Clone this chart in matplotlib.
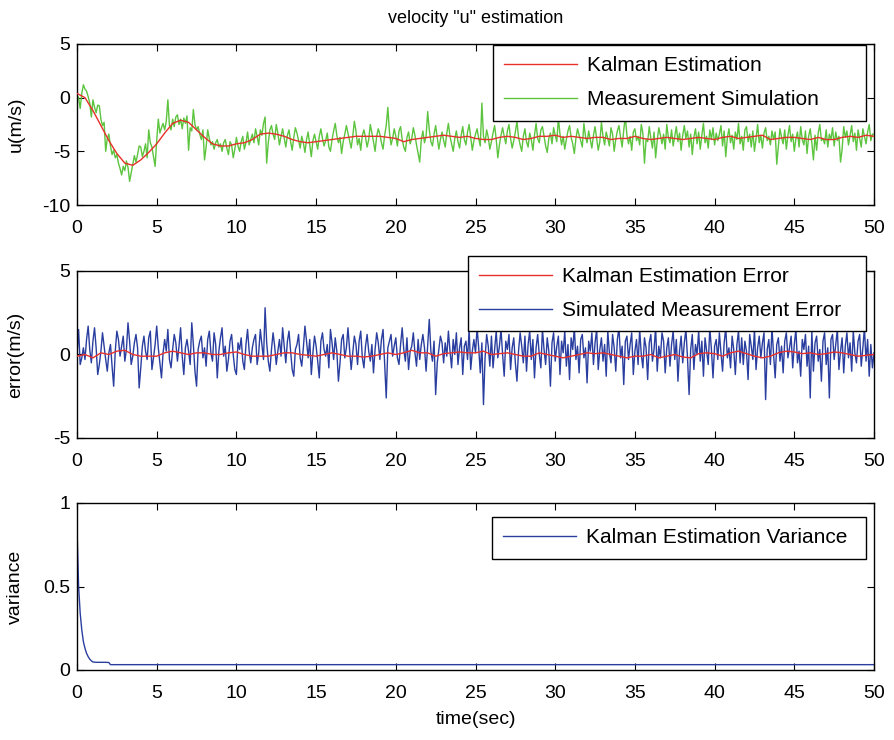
import numpy as np
import matplotlib
matplotlib.use("Agg")
import matplotlib.pyplot as plt
from matplotlib.lines import Line2D

plt.rcParams['font.family'] = ['Liberation Sans', 'DejaVu Sans']
plt.rcParams['axes.unicode_minus'] = False

# ---------------- data ----------------
t_meas = np.round(np.arange(0, 50.0001, 0.1), 1)
t_kal = np.round(np.arange(0, 50.0001, 0.5), 1)

kalman_u = [0.4, 0.0, -1.2, -2.6, -4.0, -5.2, -6.1, -6.3, -5.8, -5.1,
            -4.3, -3.3, -2.4, -2.1, -2.3, -3.0, -3.7, -4.3, -4.5, -4.5,
            -4.3, -4.2, -3.9, -3.4, -3.3, -3.4, -3.6, -3.9, -4.1, -4.2,
            -4.1, -4.0, -3.9, -3.8, -3.7, -3.6, -3.6, -3.6, -3.6, -3.7,
            -3.8, -4.1, -3.9, -3.8, -3.7, -3.6, -3.5, -3.6, -3.7, -3.6,
            -3.8, -3.9, -3.9, -3.7, -3.6, -3.7, -3.9, -3.8, -3.6, -3.6,
            -3.5, -3.7, -3.6, -3.7, -3.8, -3.7, -3.7, -3.9, -3.8, -3.8,
            -3.6, -3.8, -3.9, -3.8, -3.7, -3.8, -3.9, -3.8, -3.7, -3.8,
            -3.9, -3.7, -3.6, -3.8, -3.7, -3.6, -3.5, -3.9, -3.8, -3.7,
            -3.7, -3.8, -3.9, -3.7, -3.9, -3.9, -3.7, -3.6, -3.7, -3.5,
            -3.6]

measured_u = [
    0.2, 0.0, -1.0, 0.4, 1.2, 0.8, 0.6, 0.1, -0.5, -1.8,
    -0.2, -0.9, -1.4, -0.7, -0.75, -2.0, -2.6, -2.3, -5.0, -3.8,
    -3.4, -4.5, -5.3, -4.9, -5.6, -5.3, -6.1, -6.6, -7.2, -6.4,
    -6.8, -5.9, -6.5, -7.8, -7.0, -6.2, -5.4, -6.0, -5.3, -4.5,
    -4.6, -5.5, -5.0, -4.3, -5.6, -3.0, -4.2, -4.6, -5.5, -6.4,
    -4.0, -2.0, -3.3, -2.8, -2.4, -3.0, -2.2, -0.2, -2.6, -3.0,
    -2.0, -2.7, -1.8, -1.6, -2.5, -2.0, -2.9, -1.9, -2.4, -1.7,
    -4.9, -2.8, -3.1, -1.1, -2.5, -3.0, -2.7, -3.4, -3.9, -3.0,
    -5.8, -4.6, -3.0, -3.8, -4.4, -4.1, -4.8, -4.2, -3.9, -4.6,
    -4.3, -5.0, -4.2, -3.9, -4.7, -5.3, -4.1, -4.4, -5.6, -4.8,
    -3.7, -4.5, -5.0, -4.1, -3.6, -4.8, -4.2, -3.2, -4.4, -3.9,
    -3.4, -4.2, -2.9, -3.6, -4.4, -3.0, -3.5, -2.4, -1.8, -6.1,
    -4.2, -3.0, -2.6, -3.4, -3.9, -2.5, -3.3, -4.4, -3.6, -2.9,
    -3.8, -4.6, -3.5, -3.0, -4.1, -4.9, -3.7, -2.8, -3.3, -4.0,
    -4.7, -3.6, -4.2, -5.1, -3.9, -3.2, -4.4, -5.5, -4.0, -3.4,
    -4.1, -4.8, -3.6, -2.9, -3.8, -4.5, -4.0, -3.3, -4.6, -5.0,
    -3.9, -3.1, -2.4, -3.5, -4.2, -3.7, -5.2, -4.1, -3.4, -2.6,
    -3.3, -4.0, -4.7, -3.6, -2.2, -3.1, -4.4, -3.8, -4.9, -3.5,
    -3.0, -3.7, -4.6, -3.9, -2.5, -3.3, -4.1, -5.0, -3.6, -2.9,
    -3.4, -4.2, -4.8, -3.5, -2.6, -0.9, -3.2, -4.4, -3.8, -2.9,
    -3.6, -4.5, -3.1, -2.7, -3.9, -4.6, -5.0, -3.7, -3.2, -4.3,
    -3.8, -2.8, -3.5, -4.4, -5.2, -6.0, -3.9, -3.1, -4.2, -3.6,
    -1.3, -3.0, -4.1, -4.5, -3.4, -2.6, -3.7, -4.8, -3.9, -3.2,
    -4.0, -4.6, -3.3, -2.4, -3.6, -4.3, -5.0, -3.8, -3.1, -4.1,
    -4.7, -3.5, -2.7, -3.9, -4.4, -3.2, -2.5, -3.7, -4.9, -4.0,
    -3.4, -2.9, -3.8, -4.5, -0.5, -3.6, -4.2, -3.0, -3.7, -4.8,
    -4.1, -3.3, -2.6, -3.9, -5.6, -4.4, -3.5, -2.8, -3.6, -4.3,
    -3.1, -2.5, -3.8, -4.7, -4.0, -3.2, -2.2, -3.7, -4.4, -5.0,
    -3.6, -2.9, -4.1, -4.6, -3.3, -3.9, -4.9, -3.5, -2.4, -3.8,
    -4.2, -3.0, -2.7, -3.6, -4.5, -5.1, -3.8, -3.3, -4.3, -2.8,
    -3.5, -4.1, -1.9, -3.4, -4.4, -3.6, -4.8, -3.9, -3.1, -2.6,
    -3.7, -4.3, -5.2, -3.8, -2.9, -3.5, -4.0, -4.6, -2.4, -3.6,
    -4.2, -3.1, -3.9, -4.7, -3.5, -2.7, -3.8, -4.9, -4.1, -2.3,
    -3.6, -4.4, -3.2, -3.8, -4.5, -2.8, -3.4, -5.0, -3.9, -3.1,
    -2.6, -3.7, -4.6, -3.0, -1.8, -3.5, -4.3, -3.6, -4.9, -3.2,
    -2.9, -4.0, -3.6, -4.4, -2.5, -3.3, -6.1, -3.9, -4.1, -2.7,
    -3.8, -4.7, -3.2, -5.6, -4.0, -2.8, -3.5, -4.3, -3.4, -4.8,
    -2.5, -3.7, -4.2, -3.0, -4.5, -3.6, -2.7, -4.1, -3.3, -4.9,
    -3.5, -2.6, -3.8, -3.1, -4.6, -3.4, -5.3, -3.7, -2.9, -4.3,
    -3.2, -4.8, -3.5, -2.4, -4.2, -3.6, -4.7, -3.0, -3.9, -2.8,
    -4.4, -3.3, -4.0, -3.4, -2.6, -4.5, -3.1, -5.5, -3.7, -2.9,
    -4.2, -3.5, -4.8, -3.2, -3.9, -2.4, -4.3, -3.6, -4.9, -3.0,
    -2.7, -4.1, -3.4, -4.6, -3.1, -5.0, -3.8, -2.5, -4.2, -3.5,
    -4.7, -3.3, -2.8, -4.0, -3.6, -4.4, -3.1, -3.9, -3.2, -6.2,
    -4.5, -2.9, -3.7, -4.3, -3.0, -4.8, -3.5, -2.6, -4.1, -3.4,
    -5.0, -3.8, -3.2, -4.6, -2.7, -3.9, -4.4, -3.1, -5.2, -3.6,
    -2.9, -4.2, -5.8, -3.5, -4.9, -3.3, -2.5, -4.0, -3.8, -4.3,
    -3.0, -4.6, -3.4, -3.9, -2.8, -4.5, -3.2, -4.0, -3.6, -6.0,
    -4.8, -2.7, -3.7, -3.1, -4.4, -3.5, -2.6, -4.1, -3.3, -4.9,
    -3.0, -3.8, -4.6, -2.9, -3.6, -4.3, -3.2, -2.5, -4.0, -3.4,
    -3.4]

kalman_err = [-0.1, 0.0, -0.2, 0.1, 0.0, 0.2, 0.25, 0.0, -0.1, -0.1,
              -0.1, 0.1, 0.2, 0.1, 0.0, 0.1, 0.1, 0.0, 0.0, 0.1,
              0.15, 0.0, -0.1, -0.1, -0.1, 0.0, 0.1, 0.1, 0.0, -0.05,
              -0.1, 0.0, 0.1, 0.0, -0.1, -0.1, -0.15, -0.1, 0.0, 0.1,
              0.0, 0.1, 0.25, 0.1, 0.1, -0.1, 0.05, 0.1, 0.15, 0.1,
              0.1, 0.2, 0.0, 0.05, 0.1, 0.0, -0.1, -0.1, 0.1, 0.0,
              -0.1, -0.2, -0.1, 0.0, 0.1, 0.05, 0.1, 0.0, -0.1, -0.2,
              -0.1, -0.1, 0.0, -0.2, -0.1, 0.0, -0.15, -0.2, 0.05, 0.1,
              0.05, -0.1, 0.1, 0.2, 0.05, -0.1, -0.2, -0.1, 0.1, 0.2,
              0.15, 0.05, 0.1, 0.0, 0.05, 0.15, 0.1, 0.0, -0.1, -0.05,
              0.0]

measurement_err = [
    0.0, 1.5, -0.6, -0.2, 0.4, -0.3, 0.9, 1.7, 0.3, -0.5,
    0.8, 1.6, 0.4, -1.2, -0.6, 0.2, 1.3, 0.5, -0.3, -1.0,
    0.1, 0.6, -0.7, -1.9, 0.2, 1.4, 0.9, -0.1, 0.5, 1.1,
    -0.4, 0.3, 1.9, 0.8, -0.6, -0.1, 0.7, 1.2, 0.4, -2.0,
    -0.8, 0.5, 1.1, 0.2, -0.3, 1.0, 1.4, -0.9, -0.2, 0.6,
    1.7, 0.4, -0.5, -1.4, 0.1, 0.9, 0.2, 1.5, -0.3, -0.8,
    0.3, 1.2, 0.7, -0.4, 0.5, 1.6, -0.1, -1.2, 0.4, 0.9,
    0.2, -0.6, 1.9, 0.6, -1.0, -1.9, 0.3, 0.8, 1.1, -0.2,
    0.4, -0.7, 0.9, 1.4, 0.1, -0.4, 1.3, 0.6, -1.4, 0.2,
    1.0, 1.6, -0.1, 0.5, -1.0, -0.3, 0.8, 1.2, 0.0, -0.9,
    -1.2, 0.7, 0.3, 1.0, -0.4, -0.9, 0.6, 1.5, 0.2, -0.5,
    0.4, 0.9, 1.2, -0.6, 0.1, 1.5, 0.6, -0.3, 2.8, 0.7,
    -0.4, -1.0, 0.3, 1.3, 0.5, -0.6, 0.2, 0.9, -0.1, 1.6,
    0.5, -0.5, 0.8, 1.4, 0.2, -0.9, -1.3, 0.3, 0.6, 1.2,
    -0.2, -0.7, 0.4, 1.7, 0.8, -0.2, 0.9, -1.2, 0.1, 1.1,
    0.5, -0.4, -1.4, 0.8, 1.3, 0.3, -0.1, 0.6, -0.8, 1.5,
    0.7, -0.3, 1.0, 0.2, -1.6, -0.5, 0.9, 1.2, -0.2, 0.4,
    1.6, 0.3, -0.9, 0.1, 1.1, 0.6, -0.6, 0.8, 1.4, -0.2,
    -0.8, 0.5, 1.2, 0.2, -0.4, 0.6, -1.1, 0.3, 1.3, 0.7,
    -0.3, 0.9, 1.5, -0.5, -2.6, 0.4, 0.8, 1.2, -0.1, 0.5,
    1.0, -0.2, -0.6, 0.6, 1.6, 0.3, -0.4, 1.0, -0.9, 0.2,
    0.5, 1.3, 0.1, -0.7, 0.9, -0.3, 0.6, 1.2, 0.4, -1.0,
    0.6, 2.1, 0.2, -0.4, 0.8, -2.4, -0.5, 0.3, 1.1, 0.7,
    -0.5, 0.7, -0.1, 1.4, 0.2, -0.8, 0.9, 0.0, 1.3, -0.6,
    0.4, 1.0, -1.2, 0.5, 0.8, -0.3, 1.5, -0.9, 0.2, 0.9,
    0.1, 1.6, 0.4, -1.1, 0.7, -3.0, -0.2, 1.2, 0.5, -0.7,
    1.1, -0.8, 0.3, 1.4, -0.2, 0.5, 1.5, 0.0, -1.3, 0.8,
    0.3, 1.2, -0.9, 0.4, 1.0, -0.5, -1.6, 0.2, 1.3, 0.5,
    -0.5, 1.1, -1.0, 0.6, 1.4, -0.3, 0.9, -1.4, 0.4, 1.2,
    0.0, -0.8, 1.5, 0.3, -0.6, 1.0, 0.2, -1.9, 0.7, 1.3,
    -0.4, 0.5, 1.1, -1.2, 0.8, 0.1, 1.4, -0.7, 0.6, -1.5,
    1.0, 0.3, 1.6, -0.3, 0.5, -1.1, 0.9, 1.2, -0.2, 0.4,
    -1.7, 0.8, 0.2, 1.3, -0.6, 0.7, 1.5, -0.9, 0.3, 1.0,
    -0.4, 0.6, -1.3, 1.4, 0.1, -0.5, 1.2, 0.4, -1.0, 0.9,
    1.6, -0.2, 0.5, -1.8, 0.8, 1.1, -0.3, 0.6, 1.3, -1.2,
    0.2, 0.9, -0.6, 1.5, 0.0, -0.8, 1.0, 0.4, -1.5, 0.7,
    1.2, -0.4, 0.3, 1.6, -1.0, 0.5, -0.2, 1.3, 0.8, -1.1,
    0.4, 1.0, -0.7, 0.6, 1.4, -0.3, 0.9, -1.6, 0.2, 1.1,
    -0.5, 0.7, 1.5, -0.2, -2.4, 0.3, 1.2, -0.9, 0.6, 0.0,
    1.4, -0.4, 0.8, -1.3, 1.0, 0.2, -0.6, 1.6, 0.3, -1.4,
    0.5, 0.9, -0.3, 1.3, 0.1, -1.0, 0.7, 1.6, -0.2, 0.4,
    -0.8, 1.1, 0.3, -1.2, 0.6, 1.4, -0.5, 1.0, -0.6, 0.8,
    0.2, -1.5, 1.2, 0.5, -0.3, 1.5, -0.9, 0.4, 1.1, -0.2,
    0.7, 1.3, -2.7, 0.3, 0.9, -0.6, 1.6, 0.0, -1.4, 0.6,
    1.0, -0.4, 0.5, -1.1, 0.8, 1.3, -0.2, 0.4, 1.1, -0.8,
    0.6, 1.5, -0.5, 0.2, -1.3, 0.9, 0.3, 1.2, -0.7, 0.5,
    -2.6, 1.4, -1.0, 0.7, 1.1, -0.4, 0.3, -1.6, 0.8, 1.3,
    -0.6, 0.4, -2.6, 0.9, 1.2, -0.3, 0.6, 1.5, -0.9, 0.2,
    1.0, -1.1, 0.5, 1.3, -0.2, 0.7, -1.0, 1.4, 0.1, -0.5,
    0.8, 1.2, -0.7, 0.4, 1.6, -0.4, 0.9, -1.3, 0.6, -0.8,
    0.1]

t_var = [0.0, 0.1, 0.2, 0.3, 0.4, 0.5, 0.6, 0.7, 0.8, 0.9, 1.0, 1.2,
         1.4, 1.6, 1.8, 2.0, 2.1, 50.0]
variance = [0.85, 0.50, 0.34, 0.24, 0.17, 0.13, 0.10, 0.08, 0.065, 0.055,
            0.048, 0.046, 0.046, 0.046, 0.046, 0.045, 0.032, 0.032]

# ---------------- styling ----------------
RED = '#e8302a'
GREEN = '#5cc43e'
BLUE = '#2a3ea0'
FS = 14
LFS = 15

fig = plt.figure(figsize=(8.94, 7.40), dpi=100)
L, W = 77 / 894, (874 - 77) / 894
ax1 = fig.add_axes([L, 1 - 205 / 740, W, 161 / 740])
ax2 = fig.add_axes([L, 1 - 438 / 740, W, 167 / 740])
ax3 = fig.add_axes([L, 1 - 670 / 740, W, 167 / 740])


def style(ax):
    ax.set_xlim(0, 50)
    ax.set_xticks(np.arange(0, 51, 5))
    ax.tick_params(direction='in', top=True, right=True, length=5,
                   width=0.8, labelsize=FS)
    ax.tick_params(axis='x', pad=11)
    ax.tick_params(axis='y', pad=5)
    ax.yaxis.set_label_coords(-0.066, 0.5)
    for s in ax.spines.values():
        s.set_linewidth(1.0)


lw = 1.0
ax1.plot(t_kal, kalman_u, color=RED, lw=lw, label='Kalman Estimation', zorder=3)
ax1.plot(t_meas, measured_u, color=GREEN, lw=lw, label='Measurement Simulation', zorder=2)
ax1.set_ylim(-10, 5)
ax1.set_yticks([-10, -5, 0, 5])
ax1.set_ylabel('u(m/s)', fontsize=FS)
ax1.set_title('velocity "u" estimation', fontsize=13, pad=15)
style(ax1)

ax2.plot(t_meas, measurement_err, color=BLUE, lw=lw, zorder=2)
ax2.plot(t_kal, kalman_err, color=RED, lw=lw, zorder=3)
ax2.set_ylim(-5, 5)
ax2.set_yticks([-5, 0, 5])
ax2.set_ylabel('error(m/s)', fontsize=FS)
style(ax2)

ax3.plot(t_var, variance, color=BLUE, lw=lw, label='Kalman Estimation Variance')
ax3.set_ylim(0, 1)
ax3.set_yticks([0, 0.5, 1])
ax3.set_yticklabels(['0', '0.5', '1'])
ax3.set_ylabel('variance', fontsize=FS)
ax3.set_xlabel('time(sec)', fontsize=FS, labelpad=6)
style(ax3)

leg_kw = dict(fontsize=LFS, fancybox=False, edgecolor='black', framealpha=1,
              handlelength=3.5, borderpad=0.55, labelspacing=0.7,
              handletextpad=0.45, borderaxespad=0, mode='expand')


def box(x_left_px, top_px, ax_top_px, ax_h_px):
    x0 = (x_left_px - 77) / 797
    w = (866 - x_left_px) / 797
    top = (ax_top_px + ax_h_px - top_px) / ax_h_px
    return (x0, top - 0.01, w, 0.01)


lg1 = ax1.legend(loc='upper right', bbox_to_anchor=box(493, 45, 44, 161), **leg_kw)
h2 = [Line2D([], [], color=RED, lw=lw), Line2D([], [], color=BLUE, lw=lw)]
lg2 = ax2.legend(h2, ['Kalman Estimation Error', 'Simulated Measurement Error'],
                 loc='upper right', bbox_to_anchor=box(468, 256, 271, 167), **leg_kw)
lg3 = ax3.legend(loc='upper right', bbox_to_anchor=box(492, 517, 503, 167), **leg_kw)
for lg in (lg1, lg2, lg3):
    lg.get_frame().set_linewidth(1.0)
    lg.set_zorder(10)

fig.savefig('out.png', dpi=100)
